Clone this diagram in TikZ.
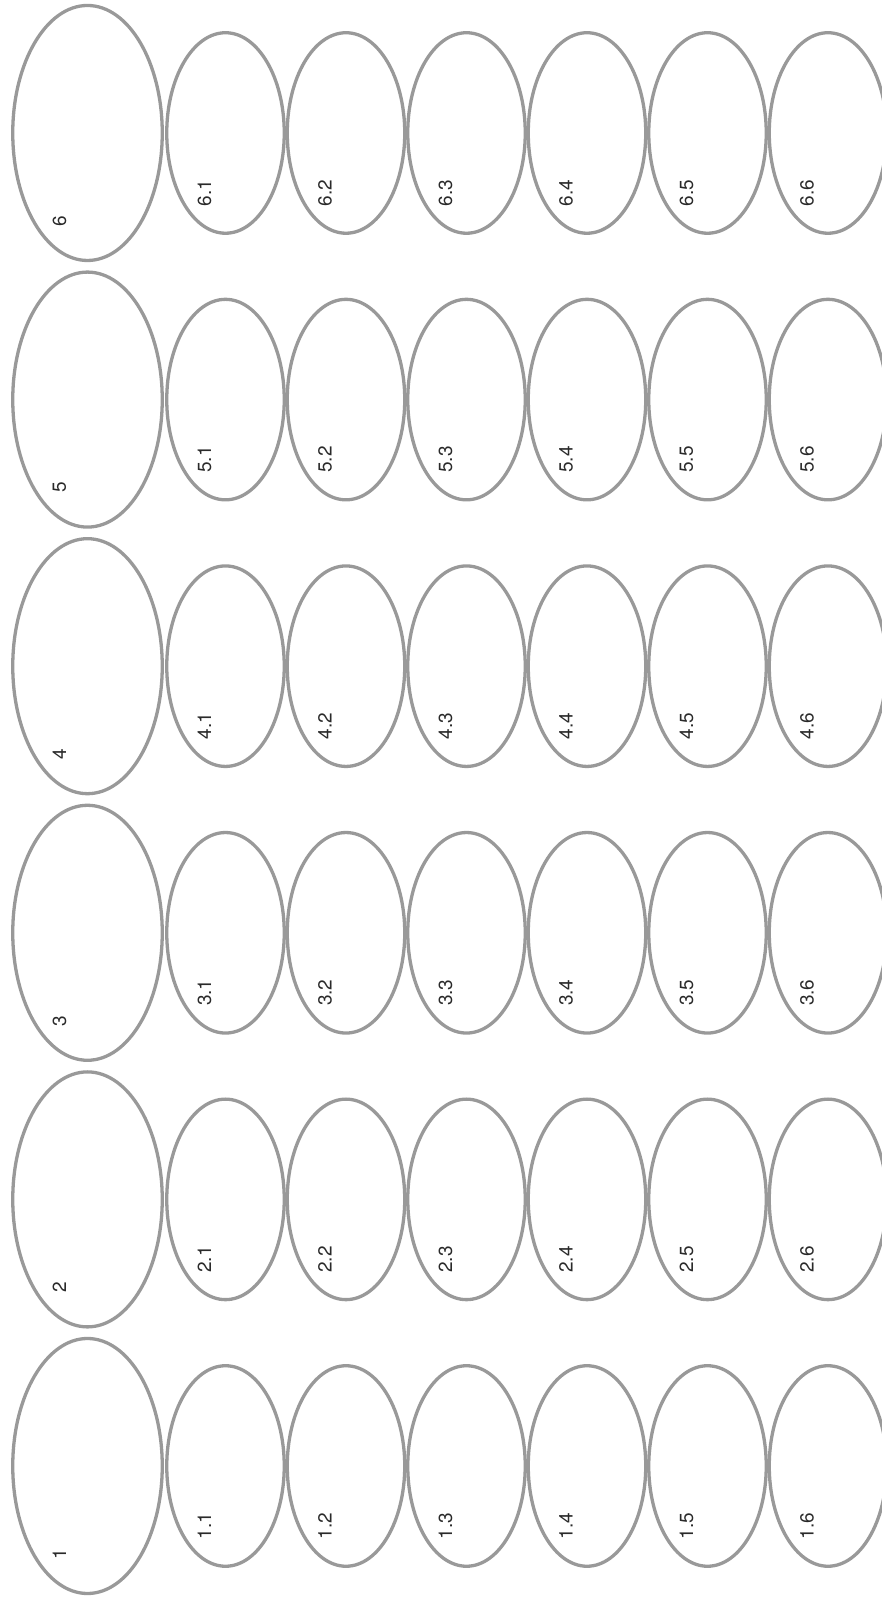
\documentclass[tikz,border=0pt]{standalone}
\usepackage{fontspec}
\setmainfont{TeX Gyre Heros}
\usetikzlibrary{shapes.geometric}
\definecolor{borde}{HTML}{999999}
\definecolor{texto}{HTML}{2A2A2A}

\begin{document}
\begin{tikzpicture}[x=1pt, y=1pt,
	grupo/.style={ellipse, draw=borde, line width=3.3pt, minimum width=149.5pt, minimum height=255pt, inner sep=0pt},
	subgrupo/.style={ellipse, draw=borde, line width=3.3pt, minimum width=117.5pt, minimum height=200.5pt, inner sep=0pt},
	etiqueta/.style={text=texto, rotate=90, font=\fontsize{19}{19}\selectfont, inner sep=0pt}]
	\useasboundingbox (0,0) rectangle (882,1597);
	\foreach \g in {1,...,6} {
		\pgfmathsetmacro{\cy}{131+(\g-1)*266.6}
		\node[grupo] (g\g) at (87.5,\cy) {};
		\node[etiqueta] (lg\g) at (59.5,\cy-88) {\g};
		\foreach \s in {1,...,6} {
			\pgfmathsetmacro{\cx}{225.5+(\s-1)*120.5}
			\node[subgrupo] (g\g-\s) at (\cx,\cy) {};
			\node[etiqueta] (lg\g-\s) at (\cx-21,\cy-60) {\g.\s};
		}
	}
\end{tikzpicture}
\end{document}
